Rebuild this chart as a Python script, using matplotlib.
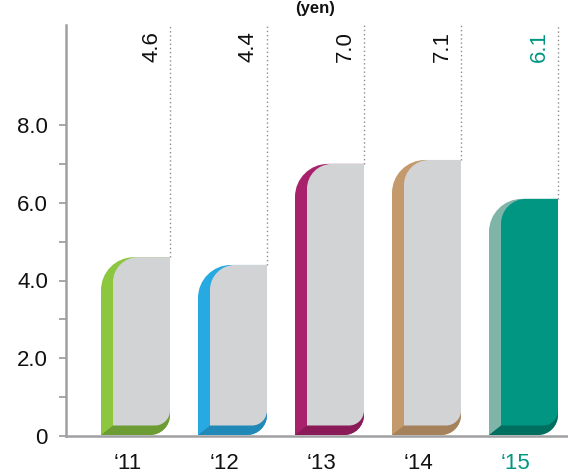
import matplotlib
matplotlib.use("Agg")
import matplotlib.pyplot as plt
from matplotlib.path import Path
from matplotlib.patches import PathPatch, Polygon

# ---- data ----
categories = ["\u201811", "\u201812", "\u201813", "\u201814", "\u201815"]
values = [4.6, 4.4, 7.0, 7.1, 6.1]
value_labels = ["4.6", "4.4", "7.0", "7.1", "6.1"]
ytick_values = [0, 2, 4, 6, 8]
ytick_labels = ["0", "2.0", "4.0", "6.0", "8.0"]
minor_ticks = [1, 3, 5, 7]
unit_title = "(yen)"

# ---- styles ----
strip_colors = ["#8dc63f", "#27aae1", "#a7226b", "#c49a6c", "#7fb4a9"]
dark_colors = ["#6e9c34", "#2189b7", "#8a1a58", "#a5825b", "#006f60"]
front_colors = ["#d1d3d4", "#d1d3d4", "#d1d3d4", "#d1d3d4", "#009681"]
text_colors = ["#111111", "#111111", "#111111", "#111111", "#009681"]
AX_GRAY = "#a0a0a2"

plt.rcParams["font.family"] = ["Liberation Sans", "DejaVu Sans"]

W, H = 568, 473
fig = plt.figure(figsize=(W / 100, H / 100), dpi=100)
# pixel geometry of the axes
AX_L, AX_R, AX_B, AX_T = 66, 568, 436, 25
ax = fig.add_axes([AX_L / W, (H - AX_B) / H, (AX_R - AX_L) / W, (AX_B - AX_T) / H])

PX_PER_Y = 38.875      # pixels per value unit
SLOT = 97.0            # pixels per category
C0 = 135.5             # pixel x of first bar centre
ax.set_xlim((AX_L - C0) / SLOT, (AX_R - C0) / SLOT)
ax.set_ylim(0, (AX_B - AX_T) / PX_PER_Y)

dx = 1.0 / SLOT        # data per pixel (x)
dy = 1.0 / PX_PER_Y    # data per pixel (y)
K = 0.5523


def rounded(x0, x1, y0, y1, r_tl, r_br):
    rtx, rty = r_tl * dx, r_tl * dy
    rbx, rby = r_br * dx, r_br * dy
    verts = [
        (x0, y0),
        (x1 - rbx, y0),
        (x1 - rbx + K * rbx, y0), (x1, y0 + rby - K * rby), (x1, y0 + rby),
        (x1, y1),
        (x0 + rtx, y1),
        (x0 + rtx - K * rtx, y1), (x0, y1 - rty + K * rty), (x0, y1 - rty),
        (x0, y0),
    ]
    codes = [Path.MOVETO, Path.LINETO,
             Path.CURVE4, Path.CURVE4, Path.CURVE4,
             Path.LINETO, Path.LINETO,
             Path.CURVE4, Path.CURVE4, Path.CURVE4,
             Path.CLOSEPOLY]
    return Path(verts, codes)


BACK_W, FRONT_W = 69, 57
BACK_BOT, FRONT_BOT = 1.0, 10.5   # pixels above the axis
top_y = ax.get_ylim()[1]

for i, v in enumerate(values):
    xr = i + (BACK_W / 2) * dx
    xl_back = xr - BACK_W * dx
    xl_front = xr - FRONT_W * dx
    yb_back = BACK_BOT * dy
    yb_front = FRONT_BOT * dy
    # dotted guide from the top of the axis down to the bar
    ax.plot([xr, xr], [v, top_y], color="#8c8c8c", lw=1.0,
            linestyle=(0, (1, 2)), zorder=1, clip_on=False)
    back = rounded(xl_back, xr, yb_back, v, 33, 20)
    ax.add_patch(PathPatch(back, facecolor=strip_colors[i], edgecolor="none", zorder=2))
    dark = PathPatch(back, facecolor=dark_colors[i], edgecolor="none", zorder=3)
    ax.add_patch(dark)
    clip = Polygon([(xl_back, yb_back - 5 * dy), (xl_back, yb_back),
                    (xl_front, yb_front), (xl_front, yb_front + 60 * dy),
                    (xr + 5 * dx, yb_front + 60 * dy), (xr + 5 * dx, yb_back - 5 * dy)],
                   closed=True, transform=ax.transData)
    dark.set_clip_path(clip)
    front = rounded(xl_front, xr, yb_front, v, 25, 15)
    ax.add_patch(PathPatch(front, facecolor=front_colors[i], edgecolor="none", zorder=4))
    ax.text(xr - 8 * dx, top_y - 6 * dy, value_labels[i], rotation=90,
            ha="right", va="top", fontsize=16, color=text_colors[i], zorder=5)

# axes styling
for s in ["top", "right"]:
    ax.spines[s].set_visible(False)
for s in ["left", "bottom"]:
    ax.spines[s].set_color(AX_GRAY)
    ax.spines[s].set_linewidth(1.8)
    ax.spines[s].set_zorder(6)
ax.set_yticks(ytick_values)
ax.set_yticklabels(ytick_labels)
ax.set_yticks(minor_ticks, minor=True)
ax.tick_params(axis="y", which="both", length=5, width=1.3, color=AX_GRAY,
               labelsize=16, pad=8, labelcolor="#111111")
ax.set_xticks([i - 8 * dx for i in range(len(categories))])
ax.set_xticklabels(categories)
ax.tick_params(axis="x", length=0, labelsize=16, pad=12)
for lbl, c in zip(ax.get_xticklabels(), text_colors):
    lbl.set_color(c)

fig.text(315 / W, 1 - 13 / H, unit_title, ha="center", va="baseline",
         fontsize=12, fontweight="bold", color="#111111")

fig.savefig("out.png", dpi=100)
